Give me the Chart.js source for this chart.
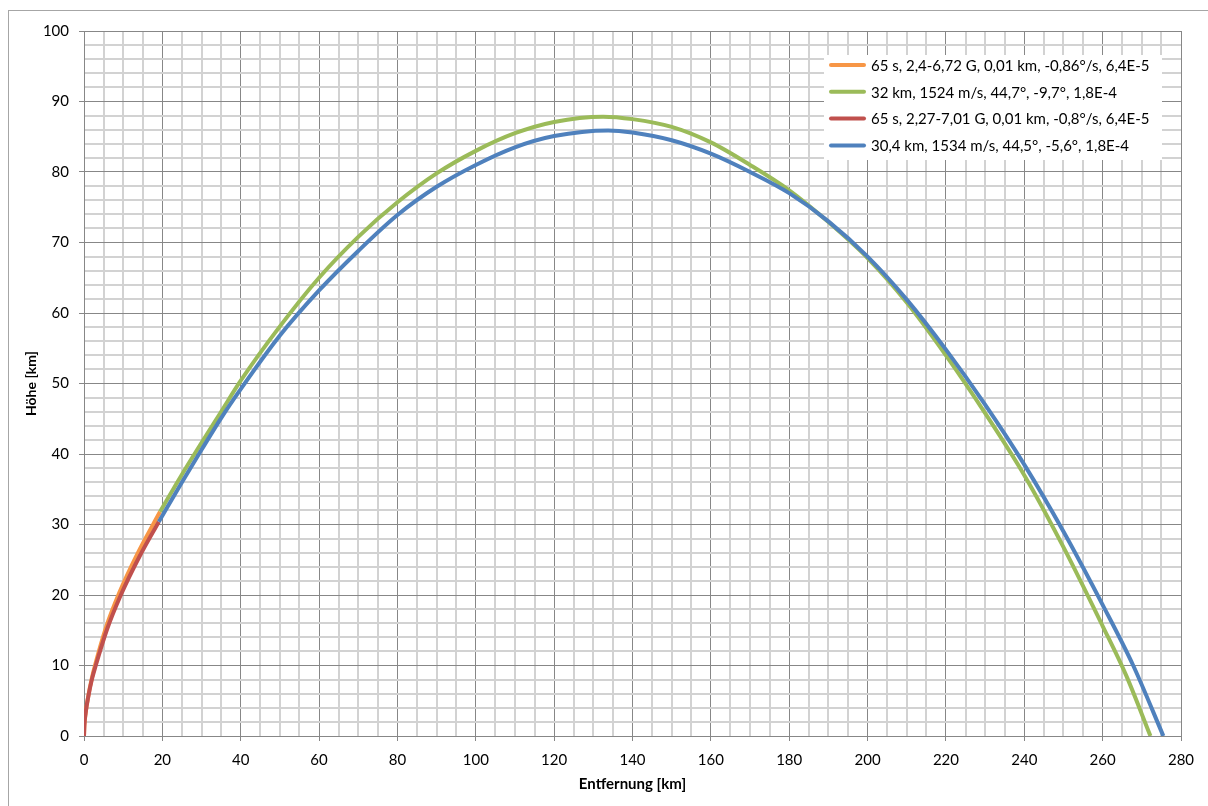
<!DOCTYPE html>
<html>
<head>
<meta charset="utf-8">
<script src="https://cdn.jsdelivr.net/npm/chart.js@4.4.0/dist/chart.umd.min.js"></script>
<style>
  html, body { margin: 0; padding: 0; background: #fff; }
  #wrap { width: 1208px; height: 806px; position: relative; }
</style>
</head>
<body>
<div id="wrap"><canvas id="myChart"></canvas></div>
<script>
// legend texts (legend order)
const labels = [
  "65 s, 2,4-6,72 G, 0,01 km, -0,86°/s, 6,4E-5",
  "32 km, 1524 m/s, 44,7°, -9,7°, 1,8E-4",
  "65 s, 2,27-7,01 G, 0,01 km, -0,8°/s, 6,4E-5",
  "30,4 km, 1534 m/s, 44,5°, -5,6°, 1,8E-4"
];
const colors = ["#F79646", "#9BBB59", "#C0504D", "#4F81BD"];

// Entfernung [km] / Höhe [km]
const orangeX = [0, 0.1, 0.4, 1.1, 2, 2.9, 5.5, 9, 13.5, 19.4];
const orangeY = [0, 1.5, 3.2, 5.7, 8.2, 10.2, 15.2, 20.3, 25.7, 31.8];

const greenX = [19.4, 25, 30, 35, 40, 50, 60, 70, 80, 90, 100, 110, 120, 132.5, 140, 150, 160, 170, 180, 190, 200, 210, 220, 230, 240, 250, 260, 266, 272.2];
const greenY = [31.8, 37.1, 41.6, 46.0, 50.4, 58.1, 65.0, 70.8, 75.7, 79.8, 83.0, 85.5, 87.1, 87.85, 87.5, 86.4, 84.2, 81.0, 77.4, 72.9, 67.8, 61.5, 54.0, 45.8, 37.0, 26.8, 15.6, 8.6, 0];

const redX = [0, 0.1, 0.4, 1.1, 2, 3, 5.8, 9.4, 14.2, 19.1];
const redY = [0, 1.5, 3.2, 5.6, 8, 10, 15, 20, 25.5, 30.4];

const blueX = [19.1, 25, 30, 35, 40, 50, 60, 70, 80, 90, 100, 110, 120, 133.8, 140, 150, 160, 170, 180, 190, 200, 210, 220, 230, 240, 250, 260, 267.8, 275.5];
const blueY = [30.4, 36.0, 40.6, 45.1, 49.2, 56.8, 63.2, 68.8, 73.9, 77.9, 81.0, 83.5, 85.1, 85.9, 85.6, 84.5, 82.6, 80.0, 77.0, 73.0, 68.0, 61.9, 54.8, 47.0, 38.5, 29.0, 18.6, 10, 0];

const toPts = (xs, ys) => xs.map((x, i) => ({ x: x, y: ys[i] }));

const MAJOR = "#878787";
const MINOR = "#d2d2d2";

const frame = {
  id: "frame",
  beforeDraw(chart) {
    const c = chart.ctx;
    c.save();
    c.fillStyle = "#fff";
    c.fillRect(0, 0, chart.width, chart.height);
    c.strokeStyle = "#a6a6a6";
    c.lineWidth = 1;
    c.strokeRect(8.5, 10.5, 1400, 1000);
    c.restore();
  },
  afterDatasetsDraw(chart) {
    const c = chart.ctx;
    c.save();
    c.fillStyle = "#fff";
    c.fillRect(824, 55, 338, 105);
    c.font = "15px Lato";
    c.textBaseline = "middle";
    labels.forEach((t, i) => {
      const y = 65 + i * 26.8;
      c.strokeStyle = colors[i];
      c.lineWidth = 4;
      c.lineCap = "round";
      c.beginPath();
      c.moveTo(831, y);
      c.lineTo(864, y);
      c.stroke();
      c.fillStyle = "#000";
      c.fillText(t, 871, y + 1);
    });
    c.restore();
  }
};

const ds = (i, pts, order) => ({
  label: labels[i],
  data: pts,
  borderColor: colors[i],
  backgroundColor: colors[i],
  borderWidth: 4,
  pointRadius: 0,
  cubicInterpolationMode: "monotone",
  order: order
});

new Chart(document.getElementById("myChart"), {
  type: "line",
  data: {
    datasets: [
      ds(0, toPts(orangeX, orangeY), 4),
      ds(1, toPts(greenX, greenY), 3),
      ds(2, toPts(redX, redY), 2),
      ds(3, toPts(blueX, blueY), 1)
    ]
  },
  plugins: [frame],
  options: {
    responsive: true,
    maintainAspectRatio: false,
    animation: false,
    layout: { padding: { left: 8, top: 31, right: 27, bottom: 10 } },
    plugins: { legend: { display: false }, tooltip: { enabled: false } },
    scales: {
      x: {
        type: "linear",
        min: 0,
        max: 280,
        afterFit: (s) => { s.height = 60; },
        border: { color: MAJOR, width: 1 },
        grid: {
          color: (c) => (c.tick && c.tick.value % 20 === 0 ? MAJOR : MINOR),
          lineWidth: (c) => (c.tick && c.tick.value % 20 === 0 ? 1 : 2),
          tickColor: (c) => (c.tick && c.tick.value % 20 === 0 ? MAJOR : "rgba(0,0,0,0)"),
          tickLength: 5
        },
        ticks: {
          stepSize: 5,
          autoSkip: false,
          maxRotation: 0,
          padding: 10,
          color: "#000",
          font: { family: "Lato", size: 15 },
          callback: (v) => (v % 20 === 0 ? v : "")
        },
        title: {
          display: true,
          text: "Entfernung [km]",
          color: "#000",
          font: { family: "Lato", size: 15, weight: "bold" },
          padding: { top: 0, bottom: 3 }
        }
      },
      y: {
        type: "linear",
        min: 0,
        max: 100,
        afterFit: (s) => { s.width = 76; },
        border: { color: MAJOR, width: 1 },
        grid: {
          color: (c) => (c.tick && c.tick.value % 10 === 0 ? MAJOR : MINOR),
          lineWidth: (c) => (c.tick && c.tick.value % 10 === 0 ? 1 : 2),
          tickColor: (c) => (c.tick && c.tick.value % 10 === 0 ? MAJOR : "rgba(0,0,0,0)"),
          tickLength: 5
        },
        ticks: {
          stepSize: 2,
          autoSkip: false,
          padding: 10,
          color: "#000",
          font: { family: "Lato", size: 15 },
          callback: (v) => (v % 10 === 0 ? v : "")
        },
        title: {
          display: true,
          text: "Höhe [km]",
          color: "#000",
          font: { family: "Lato", size: 14, weight: "bold" },
          padding: { top: 15, bottom: 0 }
        }
      }
    }
  }
});
</script>
</body>
</html>
